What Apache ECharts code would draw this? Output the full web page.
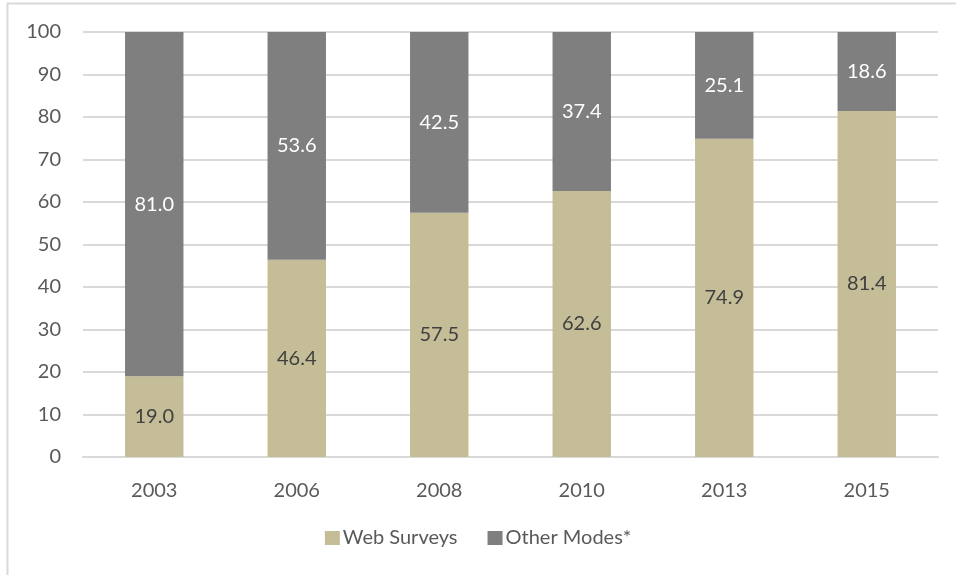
<!DOCTYPE html>
<html><head><meta charset="utf-8">
<script src="https://cdn.jsdelivr.net/npm/echarts@6/dist/echarts.min.js"></script>
<style>html,body{margin:0;padding:0;background:#fff}#c{width:956px;height:575px}</style>
</head><body><div id="c"></div>
<script>
const categories = ['2003','2006','2008','2010','2013','2015'];
const webSurveys = [19.0, 46.4, 57.5, 62.6, 74.9, 81.4];
const otherModes = [81.0, 53.6, 42.5, 37.4, 25.1, 18.6];
const seriesNames = ['Web Surveys', 'Other Modes*'];
const FONT = 'Lato';
const FS = 20;
const chart = echarts.init(document.getElementById('c'));
chart.setOption({
  animation: false,
  textStyle: {fontFamily: FONT},
  graphic: [{type:'rect', shape:{x:7.5, y:3.5, width:960, height:600}, style:{fill:'none', stroke:'#d9d9d9', lineWidth:2}, silent:true}],
  grid: {left: 83, right: 18, top: 32, bottom: 118},
  legend: {
    bottom: 22, left: 'center', itemWidth: 15, itemHeight: 14, itemGap: 30, icon: 'rect',
    textStyle: {fontSize: FS, color: '#595959', fontFamily: FONT, padding: [0,0,0,-2]},
    data: seriesNames
  },
  xAxis: {
    type: 'category', data: categories,
    axisLine: {lineStyle: {color: '#d9d9d9', width: 2}},
    axisTick: {show: false},
    axisLabel: {fontSize: FS, color: '#595959', margin: 24, fontFamily: FONT}
  },
  yAxis: {
    type: 'value', min: 0, max: 100, interval: 10,
    axisLine: {show: false}, axisTick: {show: false},
    splitLine: {lineStyle: {color: '#d9d9d9', width: 2}},
    axisLabel: {fontSize: FS, color: '#595959', margin: 22, fontFamily: FONT}
  },
  series: [
    {name: seriesNames[0], type: 'bar', stack: 's', data: webSurveys, barWidth: '41%',
     itemStyle: {color: '#c4bd97'},
     label: {show: true, position: 'inside', fontSize: FS, color: '#404040', fontFamily: FONT, formatter: p => p.value.toFixed(1)}},
    {name: seriesNames[1], type: 'bar', stack: 's', data: otherModes, barWidth: '41%',
     itemStyle: {color: '#7f7f7f'},
     label: {show: true, position: 'inside', fontSize: FS, color: '#ffffff', fontFamily: FONT, formatter: p => p.value.toFixed(1)}}
  ]
});
</script></body></html>
